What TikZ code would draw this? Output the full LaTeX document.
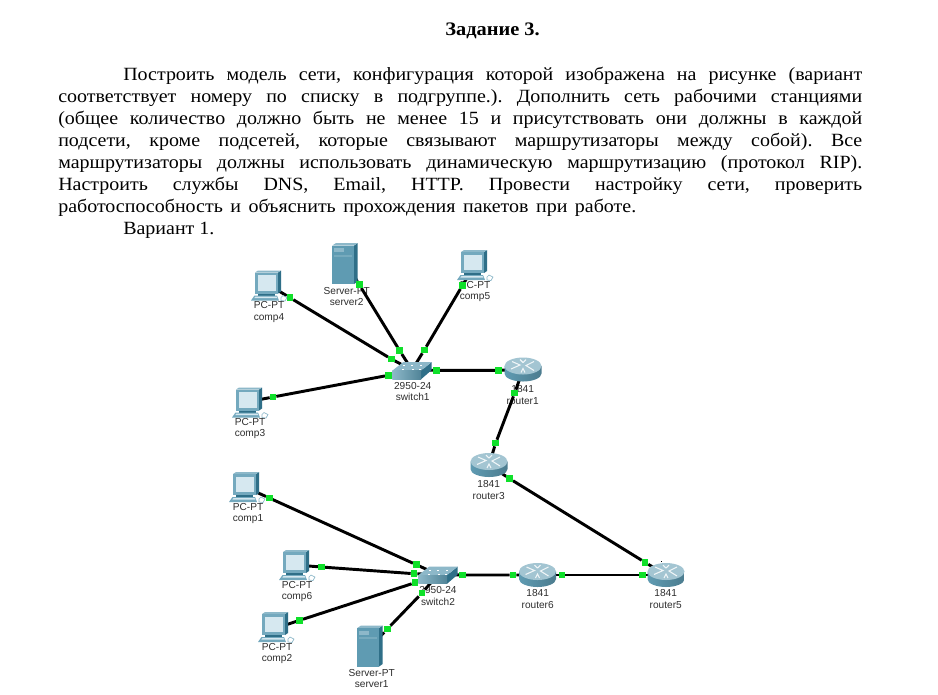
\documentclass[tikz,border=0pt]{standalone}
\usepackage{fontspec}
\setmainfont[FakeStretch=1.07]{Liberation Serif}
\newfontfamily\labfont{Liberation Sans}
\pgfdeclarelayer{bglayer}
\pgfdeclarelayer{lablayer}
\pgfdeclarelayer{linklayer}
\pgfdeclarelayer{iconlayer}
\pgfsetlayers{bglayer,lablayer,linklayer,iconlayer,main}
\definecolor{portgreen}{HTML}{0FE02A}
\definecolor{tealdark}{HTML}{2F6F88}
\definecolor{tealmid}{HTML}{5F9BB2}
\definecolor{teallight}{HTML}{8DB8C9}
\definecolor{routertop}{HTML}{A3C5D2}
\definecolor{pcframe}{HTML}{74A9BE}
\definecolor{screenc}{HTML}{D6E8F0}
\definecolor{labc}{HTML}{2E2E2E}
\newcommand{\jl}[2]{\hbox to #1pt{#2}}
\frenchspacing
\tikzset{
  txt/.style={anchor=base west,inner sep=0pt,font=\fontsize{14}{16}\selectfont,text=black},
  titletxt/.style={anchor=base,inner sep=0pt,font=\fontsize{14.3}{16}\selectfont\bfseries},
  dev/.style={inner sep=0pt,minimum size=0pt,outer sep=0pt},
  port/.style={rectangle,fill=portgreen,inner sep=0pt,minimum size=5pt,outer sep=0pt},
  devlab/.style={inner sep=0pt,align=center,text=labc,font=\labfont\fontsize{7.6}{8.4}\selectfont},
  link/.style={draw=black,line width=2.2pt},
  pcicon/.pic={
    \fill[tealdark] (10,-10) -- (13,-12) -- (13,9) -- (10,11) -- cycle;
    \fill[teallight] (-13,-10) -- (-10,-12) -- (13,-12) -- (10,-10) -- cycle;
    \fill[pcframe] (-13,-10) rectangle (10,11);
    \fill[screenc] (-10.5,-7.5) rectangle (7.5,8);
    \fill[tealdark] (-10,11) rectangle (7,13);
    \fill[pcframe] (-13.5,13) -- (9,13) -- (11,18) -- (-17,18) -- cycle;
    \fill[screenc] (-12.5,14) -- (8.5,14) -- (9.3,15.5) -- (-13.7,15.5) -- cycle;
    \draw[teallight,line width=.5pt,fill=white] (13,15) -- (15,13) -- (19,15) -- (17,18.5) -- (13,18) -- cycle;
  },
  servericon/.pic={
    \fill[tealdark] (9,-18) -- (12.7,-20.5) -- (12.7,18) -- (9,20.5) -- cycle;
    \fill[teallight] (-12.7,-18) -- (-9,-20.5) -- (12.7,-20.5) -- (9,-18) -- cycle;
    \fill[tealmid] (-12.7,-18) rectangle (9,20.5);
    \fill[teallight] (-11,-15.5) rectangle (-1,-11.5);
    \fill[teallight!50!tealmid] (-11,-9) rectangle (7,-7);
  },
  switchicon/.pic={
    \fill[tealdark] (9,.7) -- (19.7,-8) -- (19.7,0) -- (9,9.3) -- cycle;
    \fill[teallight] (-19.7,.7) -- (-8.7,-8) -- (19.7,-8) -- (9,.7) -- cycle;
    \shade[left color=teallight,right color=tealmid!85!black] (-19.7,.7) rectangle (9,9.3);
    \foreach \px/\py in {-9/-5,-1/-5,8/-5,-10/-1,0/-1,7/-1}
      \fill[white] (\px,\py) rectangle ++(1.6,.9);
  },
  routericon/.pic={
    \shade[left color=tealmid,middle color=screenc,right color=tealmid!80!black]
      (-18.5,-3.5) -- (-18.5,4) .. controls (-18.5,8.5) and (-10,12) .. (0,12)
      .. controls (10,12) and (18.5,8.5) .. (18.5,4) -- (18.5,-3.5) -- cycle;
    \fill[routertop] (-18.5,-3.5) .. controls (-18.5,-8.2) and (-10,-12) .. (0,-12)
      .. controls (10,-12) and (18.5,-8.2) .. (18.5,-3.5)
      .. controls (18.5,1.2) and (10,5) .. (0,5)
      .. controls (-10,5) and (-18.5,1.2) .. (-18.5,-3.5) -- cycle;
    \draw[white!85!routertop,line width=.8pt] (-11,-8) -- (-3,-4.5) -- (-12,-.5) (11,-8) -- (3,-4) -- (11,1);
    \draw[white!85!routertop,line width=.8pt] (-3,-10) -- (0,-7) (3,-10) -- (0,-7) (-2,3) -- (0,-1) -- (2,3);
  }
}
\begin{document}
\begin{tikzpicture}[x=.75pt,y=-.75pt]
\useasboundingbox (0,0) rectangle (938,694);
\begin{pgfonlayer}{bglayer}
\fill[white] (0,0) rectangle (938,694);
\end{pgfonlayer}

% text
\node[titletxt] (title) at (492.5,35) {Задание 3.};
\node[txt] (l1) at (123,80) {\jl{554.25}{Построить модель сети, конфигурация которой изображена на рисунке (вариант}};
\node[txt] (l2) at (58,102) {\jl{603}{соответствует номеру по списку в подгруппе.). Дополнить сеть рабочими станциями}};
\node[txt] (l3) at (58,124) {\jl{603}{(общее количество должно быть не менее 15 и присутствовать они должны в каждой}};
\node[txt] (l4) at (58,146) {\jl{603}{подсети, кроме подсетей, которые связывают маршрутизаторы между собой). Все}};
\node[txt] (l5) at (58,168) {\jl{603}{маршрутизаторы должны использовать динамическую маршрутизацию (протокол RIP).}};
\node[txt] (l6) at (58,190) {\jl{603}{Настроить службы DNS, Email, HTTP. Провести настройку сети, проверить}};
\node[txt] (l7) at (58,212) {\jl{433.5}{работоспособность и объяснить прохождения пакетов при работе.}};
\node[txt] (l8) at (123,234) {Вариант 1.};

% device anchors (on the cable axis, behind the icons)
\node[dev] (comp4) at (268,284.5) {};
\node[dev] (server2) at (345,261) {};
\node[dev] (comp5) at (474,266) {};
\node[dev] (comp3) at (249,401.6) {};
\node[dev] (switch1) at (412,370) {};
\node[dev] (router1) at (523,369.5) {};
\node[dev] (router3) at (489,465) {};
\node[dev] (comp1) at (246,487.4) {};
\node[dev] (comp6) at (296,565) {};
\node[dev] (comp2) at (275,628.4) {};
\node[dev] (server1) at (370,647) {};
\node[dev] (switch2) at (438,574.5) {};
\node[dev] (router6) at (537.5,575) {};
\node[dev] (router5) at (666,575) {};

% link lights
\node[port] (a1) at (290,297.7) {};
\node[port] (a2) at (391.3,359) {};
\node[port] (b1) at (359.3,284.7) {};
\node[port] (b2) at (399.7,350.7) {};
\node[port] (c1) at (462.3,285.7) {};
\node[port] (c2) at (424.3,350) {};
\node[port] (d1) at (273,397) {};
\node[port] (d2) at (388.3,375.3) {};
\node[port] (e1) at (436.7,370.3) {};
\node[port] (e2) at (498.7,370.3) {};
\node[port] (f1) at (514.7,393) {};
\node[port] (f2) at (495.7,443) {};
\node[port] (g1) at (269.3,498) {};
\node[port] (g2) at (416.3,564.7) {};
\node[port] (h1) at (321.7,567) {};
\node[port] (h2) at (414,573.7) {};
\node[port] (i1) at (299.7,620.3) {};
\node[port] (i2) at (415,582.7) {};
\node[port] (j1) at (387.3,629) {};
\node[port] (j2) at (422,593) {};
\node[port] (k1) at (462.3,575) {};
\node[port] (k2) at (513,575) {};
\node[port] (m1) at (562,575) {};
\node[port] (m2) at (642.3,575) {};
\node[port] (n1) at (509.7,478.7) {};
\node[port] (n2) at (645,562.3) {};

% labels
\begin{pgfonlayer}{lablayer}
\node[devlab] (lcomp4) at (269,312) {PC-PT\\comp4};
\node[devlab] (lserver2) at (346.7,296.7) {Server-PT\\server2};
\node[devlab] (lcomp5) at (475,291.5) {PC-PT\\comp5};
\node[devlab] (lcomp3) at (250,428.5) {PC-PT\\comp3};
\node[devlab] (lswitch1) at (412.7,391.8) {2950-24\\switch1};
\node[devlab] (lrouter1) at (522.7,395) {1841\\router1};
\node[devlab] (lrouter3) at (488.7,490) {1841\\router3};
\node[devlab] (lcomp1) at (248,513.5) {PC-PT\\comp1};
\node[devlab] (lcomp6) at (297,591.7) {PC-PT\\comp6};
\node[devlab] (lcomp2) at (277,653.8) {PC-PT\\comp2};
\node[devlab] (lserver1) at (371.7,678.8) {Server-PT\\server1};
\node[devlab] (lswitch2) at (438,596) {2950-24\\switch2};
\node[devlab] (lrouter6) at (537.7,599) {1841\\router6};
\node[devlab] (lrouter5) at (665.7,599) {1841\\router5};
\end{pgfonlayer}

% cables
\begin{pgfonlayer}{linklayer}
\draw[link] (comp4) -- (a1) -- (a2) -- (switch1);
\draw[link] (server2) -- (b1) -- (b2) -- (switch1);
\draw[link] (comp5) -- (c1) -- (c2) -- (switch1);
\draw[link] (comp3) -- (d1) -- (d2) -- (switch1);
\draw[link] (switch1) -- (e1) -- (e2) -- (router1);
\draw[link] (router1) -- (f1) -- (f2) -- (router3);
\draw[link] (comp1) -- (g1) -- (g2) -- (switch2);
\draw[link] (comp6) -- (h1) -- (h2) -- (switch2);
\draw[link] (comp2) -- (i1) -- (i2) -- (switch2);
\draw[link] (server1) -- (j1) -- (j2) -- (switch2);
\draw[link] (switch2) -- (k1) -- (k2) -- (router6);
\draw[link] (router6) -- (m1) -- (m2) -- (router5);
\draw[link] (router3) -- (n1) -- (n2) -- (router5);
\end{pgfonlayer}

% icons
\begin{pgfonlayer}{iconlayer}
\pic at (268,282.5) {pcicon};
\pic at (474,262) {pcicon};
\pic at (249,399.5) {pcicon};
\pic at (246,484) {pcicon};
\pic at (296,562) {pcicon};
\pic at (275,624) {pcicon};
\pic at (345,263.5) {servericon};
\pic at (370,646) {servericon};
\pic at (412,370) {switchicon};
\pic at (438,574.5) {switchicon};
\pic at (523,369.5) {routericon};
\pic at (489,465) {routericon};
\pic at (537.5,575) {routericon};
\pic at (666,575) {routericon};
\fill[black] (660.5,560.5) rectangle (662,562);
\end{pgfonlayer}
\end{tikzpicture}
\end{document}
